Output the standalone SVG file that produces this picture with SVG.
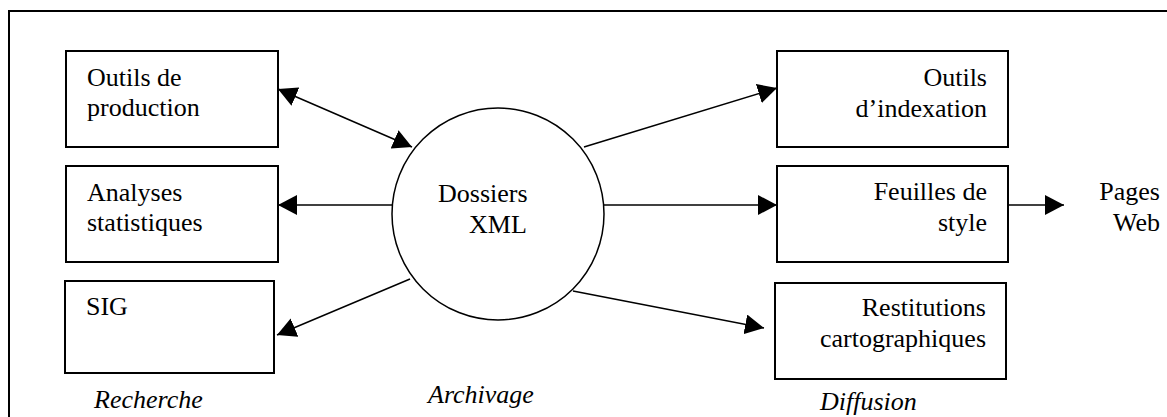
<svg xmlns="http://www.w3.org/2000/svg" width="1167" height="417" viewBox="0 0 1167 417">
<style>
.box{fill:#fff;stroke:#000;stroke-width:2}
.t{font-size:26px;fill:#000}
.i{font-style:italic}
.e{text-anchor:end}
.c{stroke:#000;stroke-width:1.5;fill:none}
</style>
<defs>
<marker id="ah" viewBox="0 0 19 20" refX="19" refY="10" markerWidth="19" markerHeight="20" markerUnits="userSpaceOnUse" orient="auto-start-reverse">
<path d="M0,0 L19,10 L0,20 Z" fill="#000"/>
</marker>
</defs>
<rect width="1167" height="417" fill="#fff"/>
<g id="frame">
<path d="M9,417 V11 H1167" fill="none" stroke="#000" stroke-width="2"/>
</g>
<g id="connectors">
<line class="c" x1="278" y1="89" x2="412" y2="147" marker-start="url(#ah)" marker-end="url(#ah)"/>
<line class="c" x1="393" y1="205" x2="278" y2="205" marker-end="url(#ah)"/>
<line class="c" x1="410" y1="279" x2="277" y2="335" marker-end="url(#ah)"/>
<line class="c" x1="584" y1="147" x2="777" y2="88" marker-end="url(#ah)"/>
<line class="c" x1="604" y1="205" x2="777" y2="205" marker-end="url(#ah)"/>
<line class="c" x1="573" y1="291" x2="764" y2="328" marker-end="url(#ah)"/>
<line class="c" x1="1008" y1="205" x2="1064" y2="205" marker-end="url(#ah)"/>
</g>
<g font-family="'Liberation Serif', 'Times New Roman', Times, serif">
<g id="outils-production">
<rect class="box" x="66" y="51" width="212" height="96"/>
<text class="t" x="87" y="86">Outils de</text>
<text class="t" x="87" y="116">production</text>
</g>
<g id="analyses">
<rect class="box" x="66" y="166" width="212" height="96"/>
<text class="t" x="87" y="201">Analyses</text>
<text class="t" x="87" y="231">statistiques</text>
</g>
<g id="sig">
<rect class="box" x="65" y="281" width="209" height="92"/>
<text class="t" x="86" y="315">SIG</text>
</g>
<g id="dossiers">
<circle cx="498" cy="214" r="106" fill="#fff" stroke="#000" stroke-width="1.5"/>
<text class="t" x="438" y="202">Dossiers</text>
<text class="t" x="469" y="233">XML</text>
</g>
<g id="outils-indexation">
<rect class="box" x="777" y="51" width="231" height="96"/>
<text class="t e" x="987" y="86">Outils</text>
<text class="t e" x="987" y="117">d’indexation</text>
</g>
<g id="feuilles">
<rect class="box" x="777" y="166" width="231" height="96"/>
<text class="t e" x="987" y="200">Feuilles de</text>
<text class="t e" x="987" y="231">style</text>
</g>
<g id="restitutions">
<rect class="box" x="775" y="283" width="231" height="96"/>
<text class="t e" x="986" y="316">Restitutions</text>
<text class="t e" x="986" y="347">cartographiques</text>
</g>
<g id="pages-web">
<text class="t e" x="1160" y="200">Pages</text>
<text class="t e" x="1160" y="231">Web</text>
</g>
<g id="labels">
<text class="t i" x="94" y="408">Recherche</text>
<text class="t i" x="428" y="403">Archivage</text>
<text class="t i" x="820" y="410">Diffusion</text>
</g>
</g>
</svg>
